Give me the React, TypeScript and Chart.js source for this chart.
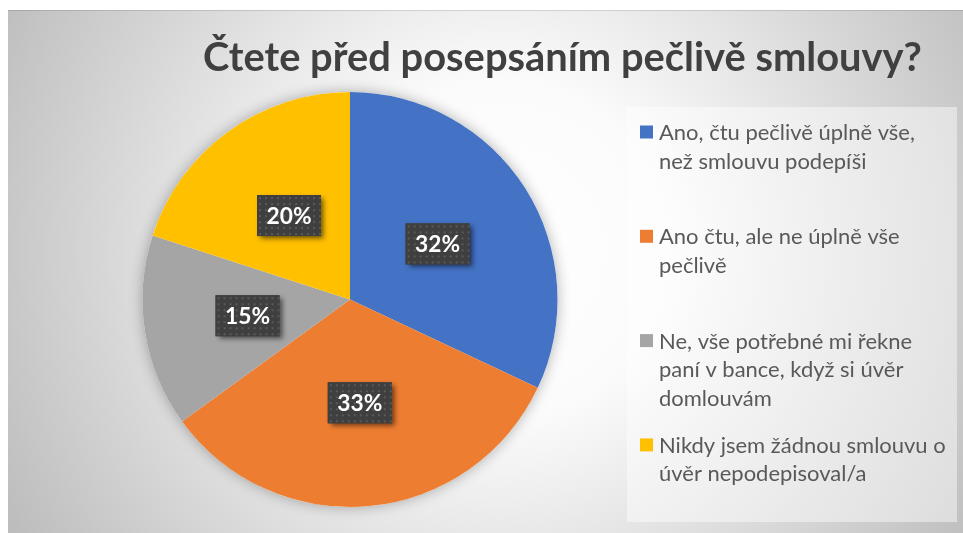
import React, { useEffect, useRef } from "react";
import { Chart, registerables } from "chart.js";

Chart.register(...registerables);

const chartTitle = "Čtete před posepsáním pečlivě smlouvy?";
const categories: string[][] = [
  ["Ano, čtu pečlivě úplně vše,", "než smlouvu podepíši"],
  ["Ano čtu, ale ne úplně vše", "pečlivě"],
  ["Ne, vše potřebné mi řekne", "paní v bance, když si úvěr", "domlouvám"],
  ["Nikdy jsem žádnou smlouvu o", "úvěr nepodepisoval/a"],
];
const values = [32, 33, 15, 20];
const sliceColors = ["#4472C4", "#ED7D31", "#A5A5A5", "#FFC000"];

const W = 963;
const H = 533;
const FONT = "Lato, 'Open Sans', sans-serif";

function fitSize(ctx: CanvasRenderingContext2D, text: string, weight: string, target: number) {
  ctx.font = `${weight} 100px ${FONT}`;
  const w = ctx.measureText(text).width;
  return (100 * target) / w;
}

const decorPlugin = {
  id: "decor",
  beforeDraw(chart: any) {
    const ctx: CanvasRenderingContext2D = chart.ctx;
    ctx.save();
    ctx.fillStyle = "#ffffff";
    ctx.fillRect(0, 0, W, H);
    const g = ctx.createRadialGradient(500, 250, 0, 500, 250, 560);
    g.addColorStop(0, "#ffffff");
    g.addColorStop(0.3, "#fbfbfb");
    g.addColorStop(1, "#bdbdbd");
    ctx.fillStyle = g;
    ctx.fillRect(8, 10, W - 8, H - 10);
    ctx.fillStyle = "rgba(0,0,0,0.12)";
    ctx.fillRect(8, 10, W - 8, 1);
    // legend box
    ctx.fillStyle = "rgba(255,255,255,0.45)";
    ctx.fillRect(627, 107, 330, 415);
    ctx.restore();
  },
  beforeDatasetsDraw(chart: any) {
    const ctx: CanvasRenderingContext2D = chart.ctx;
    const arc = chart.getDatasetMeta(0).data[0];
    if (!arc) return;
    ctx.save();
    ctx.shadowColor = "rgba(0,0,0,0.3)";
    ctx.shadowBlur = 14;
    ctx.fillStyle = "#ffffff";
    ctx.beginPath();
    ctx.arc(arc.x, arc.y, arc.outerRadius, 0, Math.PI * 2);
    ctx.fill();
    ctx.restore();
  },
  afterDatasetsDraw(chart: any) {
    const ctx: CanvasRenderingContext2D = chart.ctx;
    const data: number[] = chart.data.datasets[0].data;
    const total = data.reduce((a, b) => a + b, 0);
    const pc = document.createElement("canvas");
    pc.width = 6;
    pc.height = 6;
    const pctx = pc.getContext("2d")!;
    pctx.fillStyle = "#3f3f3f";
    pctx.fillRect(0, 0, 6, 6);
    pctx.fillStyle = "#5a5a5a";
    pctx.fillRect(2, 2, 2, 2);
    const pattern = ctx.createPattern(pc, "repeat")!;
    const size = fitSize(ctx, "32%", "bold", 45);
    chart.getDatasetMeta(0).data.forEach((arc: any, i: number) => {
      const p = arc.getCenterPoint();
      const txt = Math.round((data[i] / total) * 100) + "%";
      const bw = 64;
      const bh = 41;
      ctx.save();
      ctx.shadowColor = "rgba(0,0,0,0.55)";
      ctx.shadowBlur = 5;
      ctx.shadowOffsetX = 3;
      ctx.shadowOffsetY = 3;
      ctx.fillStyle = "#3f3f3f";
      ctx.fillRect(p.x - bw / 2, p.y - bh / 2, bw, bh);
      ctx.restore();
      ctx.save();
      ctx.translate(p.x - bw / 2, p.y - bh / 2);
      ctx.fillStyle = pattern;
      ctx.fillRect(0, 0, bw, bh);
      ctx.restore();
      ctx.save();
      ctx.font = `bold ${size}px ${FONT}`;
      ctx.fillStyle = "#ffffff";
      ctx.textAlign = "center";
      ctx.textBaseline = "middle";
      ctx.fillText(txt, p.x, p.y + 1);
      ctx.restore();
    });
  },
  afterDraw(chart: any) {
    const ctx: CanvasRenderingContext2D = chart.ctx;
    ctx.save();
    // title
    const tSize = fitSize(ctx, chartTitle, "bold", 719);
    ctx.font = `bold ${tSize}px ${FONT}`;
    ctx.fillStyle = "#404040";
    ctx.textAlign = "center";
    ctx.textBaseline = "alphabetic";
    ctx.fillText(chartTitle, 562.5, 71);
    // legend
    const labels: string[][] = chart.data.labels;
    const colors: string[] = chart.data.datasets[0].backgroundColor;
    const lSize = fitSize(ctx, labels[0][0], "normal", 256);
    ctx.font = `normal ${lSize}px ${FONT}`;
    ctx.textAlign = "left";
    ctx.textBaseline = "middle";
    const lh = 28.5;
    labels.forEach((lines, i) => {
      const y0 = 132 + i * 104.3;
      ctx.fillStyle = colors[i];
      ctx.fillRect(640, y0 - 6.5, 13, 13);
      ctx.fillStyle = "#595959";
      lines.forEach((ln, j) => {
        ctx.fillText(ln, 659, y0 + j * lh + 1);
      });
    });
    ctx.restore();
  },
};

export default function App() {
  const ref = useRef<HTMLCanvasElement | null>(null);
  useEffect(() => {
    if (!ref.current) return;
    const chart = new Chart(ref.current, {
      type: "pie",
      data: {
        labels: categories as any,
        datasets: [
          {
            data: values,
            backgroundColor: sliceColors,
            borderWidth: 0,
            hoverOffset: 0,
          },
        ],
      },
      options: {
        responsive: false,
        animation: false,
        devicePixelRatio: 1,
        layout: { padding: { left: 142, right: 405, top: 92, bottom: 26 } },
        plugins: {
          legend: { display: false },
          title: { display: false },
          tooltip: { enabled: false },
        },
      },
      plugins: [decorPlugin],
    });
    return () => chart.destroy();
  }, []);
  return (
    <div style={{ position: "fixed", left: 0, top: 0, width: W, height: H }}>
      <canvas ref={ref} width={W} height={H} style={{ display: "block" }} />
    </div>
  );
}
